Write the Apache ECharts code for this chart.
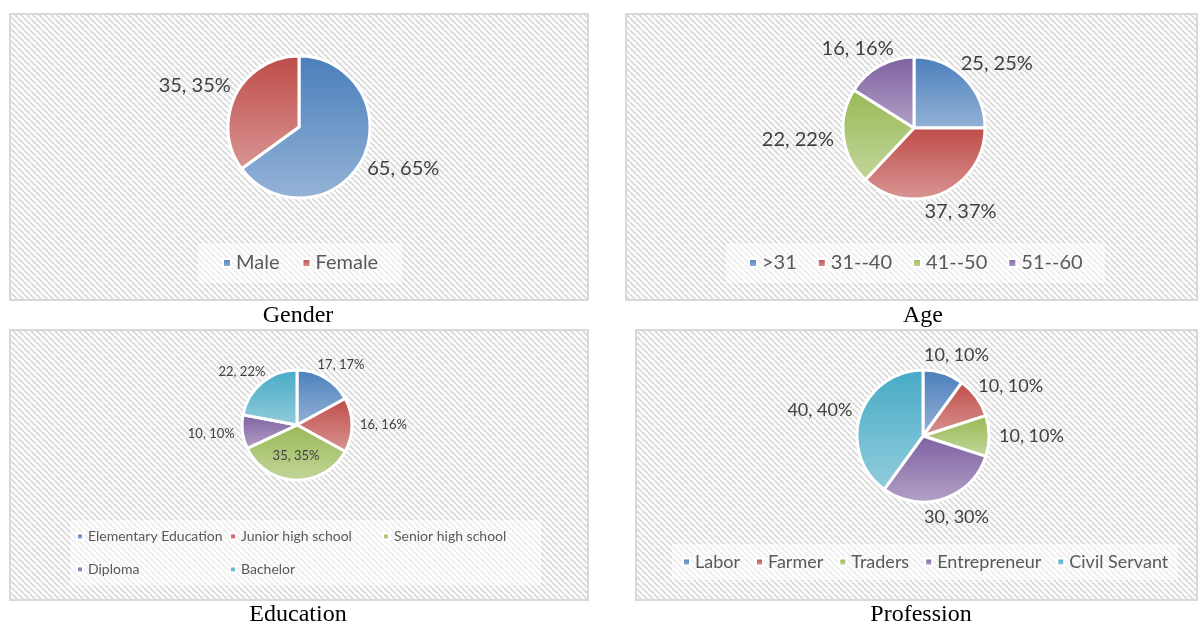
<!DOCTYPE html>
<html>
<head>
<meta charset="utf-8">
<script src="https://cdn.jsdelivr.net/npm/echarts@6/dist/echarts.min.js"></script>
<style>
html, body { margin: 0; padding: 0; background: #fff; }
#chart { width: 1200px; height: 626px; }
</style>
</head>
<body>
<div id="chart"></div>
<script>
const genderNames = ['Male', 'Female']
const genderValues = [65, 35]
const ageNames = ['>31', '31--40', '41--50', '51--60']
const ageValues = [25, 37, 22, 16]
const educationNames = ['Elementary Education', 'Junior high school', 'Senior high school', 'Diploma', 'Bachelor']
const educationValues = [17, 16, 35, 10, 22]
const professionNames = ['Labor', 'Farmer', 'Traders', 'Entrepreneur', 'Civil Servant']
const professionValues = [10, 10, 10, 30, 40]
const panelTitles = ['Gender', 'Age', 'Education', 'Profession']

// office colours: dark at the top of a slice, light at the bottom
const topColors = ['#4a7ebb', '#be4b48', '#98b954', '#7d60a0', '#46aac5']
const bottomColors = ['#95b3d7', '#d99694', '#c3d69b', '#b3a2c7', '#93cddd']

const chart = echarts.init(document.getElementById('chart'))

// diagonal hatch tile for the plot areas
function hatchTile() {
  const c = document.createElement('canvas')
  c.width = 6
  c.height = 6
  const ctx = c.getContext('2d')
  ctx.fillStyle = '#ffffff'
  ctx.fillRect(0, 0, 6, 6)
  ctx.strokeStyle = '#dcdcdc'
  ctx.lineWidth = 2
  for (let k = -1; k <= 1; k++) {
    ctx.beginPath()
    ctx.moveTo(k * 6, 0)
    ctx.lineTo(k * 6 + 6, 6)
    ctx.stroke()
  }
  return c
}
const hatch = { image: hatchTile(), repeat: 'repeat' }

function grad(i) {
  return {
    type: 'linear', x: 0, y: 0, x2: 0, y2: 1,
    colorStops: [{ offset: 0, color: topColors[i] }, { offset: 1, color: bottomColors[i] }]
  }
}

// excel-like "best fit": push the label box outwards along the slice's mid direction
function bestFit(values, center, radius, gap, inside) {
  const total = values.reduce((a, b) => a + b, 0)
  return function (params) {
    const i = params.dataIndex
    if (inside.indexOf(i) > -1) return {}
    let before = 0
    for (let k = 0; k < i; k++) before += values[k]
    const a = (before + values[i] / 2) / total * Math.PI * 2
    const dx = Math.sin(a)
    const dy = -Math.cos(a)
    const w = params.labelRect.width
    const h = params.labelRect.height
    return {
      x: center[0] + dx * (radius + gap) + dx * w / 2,
      y: center[1] + dy * (radius + gap) + dy * h / 2,
      align: 'center',
      verticalAlign: 'middle'
    }
  }
}

function pie(names, values, center, radius, fontSize, gap, inside) {
  inside = inside || []
  return {
    type: 'pie',
    center: center,
    radius: radius,
    startAngle: 90,
    clockwise: true,
    silent: true,
    animation: false,
    avoidLabelOverlap: false,
    data: names.map((n, i) => {
      const item = { name: n, value: values[i], itemStyle: { color: grad(i) } }
      if (inside.indexOf(i) > -1) item.label = { position: 'inside' }
      return item
    }),
    itemStyle: { borderColor: '#ffffff', borderWidth: 3 },
    label: {
      show: true,
      position: 'outside',
      formatter: p => p.value + ', ' + Math.round(p.percent) + '%',
      fontFamily: 'Lato',
      fontSize: fontSize,
      color: '#404040'
    },
    labelLine: { show: false, length: 4, length2: 0 },
    labelLayout: bestFit(values, center, radius, gap, inside)
  }
}

function legend(names, left, top, fontSize, icon, gap, pad, extra) {
  return Object.assign({
    data: names,
    left: left,
    top: top,
    orient: 'horizontal',
    icon: 'rect',
    itemWidth: icon,
    itemHeight: icon,
    itemGap: gap,
    padding: pad,
    backgroundColor: 'rgba(255,255,255,0.55)',
    selectedMode: false,
    textStyle: { fontFamily: 'Lato', fontSize: fontSize, color: '#595959' }
  }, extra || {})
}

const panels = [
  [10, 14, 578, 286],
  [626, 14, 571, 286],
  [10, 330, 578, 270],
  [636, 330, 561, 270]
]
const titlePos = [[298, 316], [923, 316], [298, 615], [921, 615]]

const graphic = []
panels.forEach(p => {
  graphic.push({
    type: 'rect', z: -10, silent: true,
    shape: { x: p[0], y: p[1], width: p[2], height: p[3] },
    style: { fill: hatch, stroke: '#d9d9d9', lineWidth: 2 }
  })
})
panelTitles.forEach((t, i) => {
  graphic.push({
    type: 'text', silent: true,
    x: titlePos[i][0], y: titlePos[i][1],
    style: {
      text: t, fill: '#000', font: '24px "Liberation Serif"',
      textAlign: 'center', textVerticalAlign: 'middle'
    }
  })
})

const option = {
  animation: false,
  graphic: graphic,
  legend: [
    legend(genderNames, 198, 243, 20, 8, 22, [10, 24]),
    legend(ageNames, 726, 243, 20, 8, 20, [10, 22]),
    legend(educationNames, 70, 520, 14, 6, 0, [0, 6], {
      width: 460,
      textStyle: { fontFamily: 'Lato', fontSize: 14, color: '#595959', width: 141, lineHeight: 33 }
    }),
    legend(professionNames, 672, 544, 18, 7, 15, [9, 10])
  ],
  series: [
    pie(genderNames, genderValues, [299, 127], 71, 20, 10),
    pie(ageNames, ageValues, [914, 128], 71, 20, 10),
    pie(educationNames, educationValues, [297, 425], 55, 13, 8, [2]),
    pie(professionNames, professionValues, [923, 436], 66, 18, 10)
  ]
}

chart.setOption(option)
</script>
</body>
</html>
